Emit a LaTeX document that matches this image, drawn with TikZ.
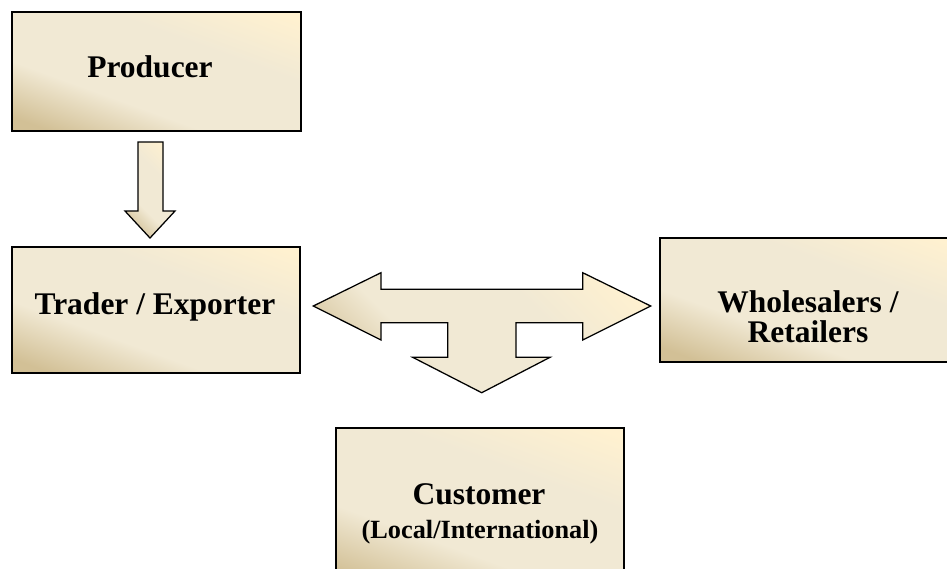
\documentclass[tikz,border=0pt]{standalone}
\usepackage{fontspec}
\setmainfont{Liberation Serif}
\usetikzlibrary{positioning, calc}

\definecolor{parchtan}{RGB}{210,192,150}
\definecolor{parchmid}{RGB}{241,233,212}
\definecolor{parchcream}{RGB}{255,241,208}
\pgfdeclarehorizontalshading{parch}{100bp}{color(0bp)=(parchtan); color(22bp)=(parchtan); color(38bp)=(parchmid); color(62bp)=(parchmid); color(80bp)=(parchcream); color(100bp)=(parchcream)}

\begin{document}
\begin{tikzpicture}[
        x=0.025cm, y=-0.025cm,
        stage/.style={rectangle, draw=black, line width=1.4pt, shade, shading=parch, shading angle=70, minimum width=7.2cm, inner sep=0pt},
        stagetext/.style={anchor=base, align=center, font=\bfseries\fontsize{22.4}{21.3}\selectfont},
        blockarrow/.style={draw=black, line width=0.9pt, line join=miter, shade, shading=parch, shading angle=45}
    ]
        \clip (0,0) rectangle (947,568);

        % boxes
        \node[stage, minimum height=2.98cm] (producer) at (156.5,71.8) {};
        \node[stage, minimum height=3.15cm] (trader) at (156,310.3) {};
        \node[stage, minimum width=7.4cm, minimum height=3.1cm] (wholesale) at (808,299.8) {};
        \node[stage, minimum height=4cm] (customer) at (480,508) {};

        \node[stagetext] (producerlbl) at ($(producer.center)+(-6.5,5.5)$) {Producer};
        \node[stagetext] (traderlbl) at ($(trader.center)+(-1,3.7)$) {Trader / Exporter};
        \node[stagetext] (wholesalelbl) at ($(wholesale.center)+(0,42.2)$) {Wholesalers /\\Retailers};
        \node[stagetext] (customerlbl) at ($(customer.center)+(-1,-3.7)$) {Customer};
        \node[stagetext, font=\bfseries\fontsize{18.7}{20}\selectfont] (regionlbl) at ($(customerlbl.base)+(1,34)$) {(Local/International)};

        % producer to trader
        \draw[blockarrow] (138,142) -- (163,142) -- (163,211) -- (175,211) -- (150,238)
            -- (125,211) -- (138,211) -- cycle;

        % trader to wholesalers and customer
        \draw[blockarrow] (313.3,306) -- (381,272.7) -- (381,289.3) -- (582.7,289.3)
            -- (582.7,272.7) -- (650.7,306) -- (582.7,340) -- (582.7,322.7)
            -- (516,322.7) -- (516,357.3) -- (550,357.3) -- (481.7,392.7)
            -- (412.7,357.3) -- (447.7,357.3) -- (447.7,322.7) -- (381,322.7)
            -- (381,340) -- cycle;
    \end{tikzpicture}
\end{document}
